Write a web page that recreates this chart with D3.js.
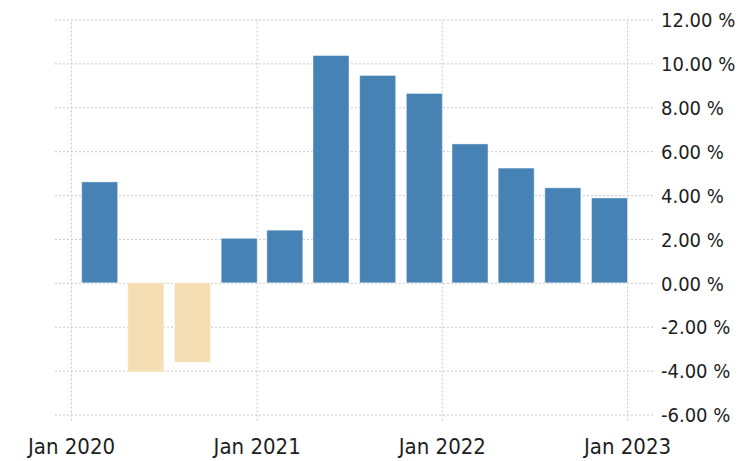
<!DOCTYPE html>
<html>
<head>
<meta charset="utf-8">
<script src="https://cdn.jsdelivr.net/npm/d3@7"></script>
<style>
 body { margin: 0; background: #fff; }
 svg text { font-family: "DejaVu Sans Condensed", "DejaVu Sans", sans-serif; fill: #1e1e1e; }
 .grid line { stroke: #c8c8c8; stroke-dasharray: 2,2; }
 .grid path { display: none; }
</style>
</head>
<body>
<div id="chart"></div>
<script>
/*************
Data
**************/
// quarter end dates, GDP growth rate (% yoy)
var quarterEnds = ["2020-03-31", "2020-06-30", "2020-09-30", "2020-12-31",
                   "2021-03-31", "2021-06-30", "2021-09-30", "2021-12-31",
                   "2022-03-31", "2022-06-30", "2022-09-30", "2022-12-31"];
var values = [4.6, -4.06, -3.62, 2.03, 2.4, 10.36, 9.45, 8.63, 6.33, 5.23, 4.33, 3.87];
var yTicks = [-6, -4, -2, 0, 2, 4, 6, 8, 10, 12];
var xTicks = ["2020-01-01", "2021-01-01", "2022-01-01", "2023-01-01"];

/*************
Params
**************/
var width = 742, height = 461;
var plotLeft = 54, plotRight = 653;
var plotTop = 19.5, plotBottom = 414.5;
var barWidth = 36;

var parse = d3.timeParse("%Y-%m-%d");
var data = quarterEnds.map((d, i) => ({ date: d3.timeDay.offset(parse(d), 1), value: values[i] }));

var x = d3.scaleTime()
 .domain([parse(xTicks[0]), parse(xTicks[xTicks.length - 1])])
 .range([71, 627]);
var y = d3.scaleLinear()
 .domain([-6, 12])
 .range([plotBottom, plotTop]);

const svg = d3.select("#chart")
 .append("svg")
 .attr("width", width)
 .attr("height", height);

// horizontal grid
svg.append("g")
 .attr("class", "grid")
 .attr("transform", "translate(" + plotRight + ",0)")
 .call(d3.axisLeft(y).tickValues(yTicks).tickSize(plotRight - plotLeft).tickFormat(""));

// vertical grid
svg.append("g")
 .attr("class", "grid")
 .attr("transform", "translate(0," + (plotBottom + 6) + ")")
 .call(d3.axisTop(x).tickValues(xTicks.map(parse)).tickSize(plotBottom + 6 - plotTop).tickFormat(""));

// bars
svg.append("g")
 .selectAll("rect")
 .data(data)
 .enter().append("rect")
 .attr("x", d => x(d.date) - barWidth + 0.5)
 .attr("width", barWidth)
 .attr("y", d => y(Math.max(0, d.value)))
 .attr("height", d => Math.abs(y(d.value) - y(0)))
 .attr("fill", d => d.value >= 0 ? "#4682b4" : "#f5deb3")
 .attr("stroke", "rgba(255,255,255,0.45)")
 .attr("stroke-width", 1);

// y labels
const yAxis = svg.append("g")
 .attr("transform", "translate(" + (plotRight + 8) + ",0)")
 .call(d3.axisRight(y).tickValues(yTicks).tickSize(0).tickPadding(0)
   .tickFormat(d => d.toFixed(2) + " %"));
yAxis.select(".domain").remove();
yAxis.selectAll("text")
 .attr("font-size", 20)
 .attr("dy", "0.36em");

// x labels
const xAxis = svg.append("g")
 .attr("transform", "translate(0," + (plotBottom + 6) + ")")
 .call(d3.axisBottom(x).tickValues(xTicks.map(parse)).tickSize(0).tickPadding(0)
   .tickFormat(d3.timeFormat("Jan %Y")));
xAxis.select(".domain").remove();
xAxis.selectAll("text")
 .attr("font-size", 22)
 .attr("dy", null)
 .attr("y", 33);
</script>
</body>
</html>
